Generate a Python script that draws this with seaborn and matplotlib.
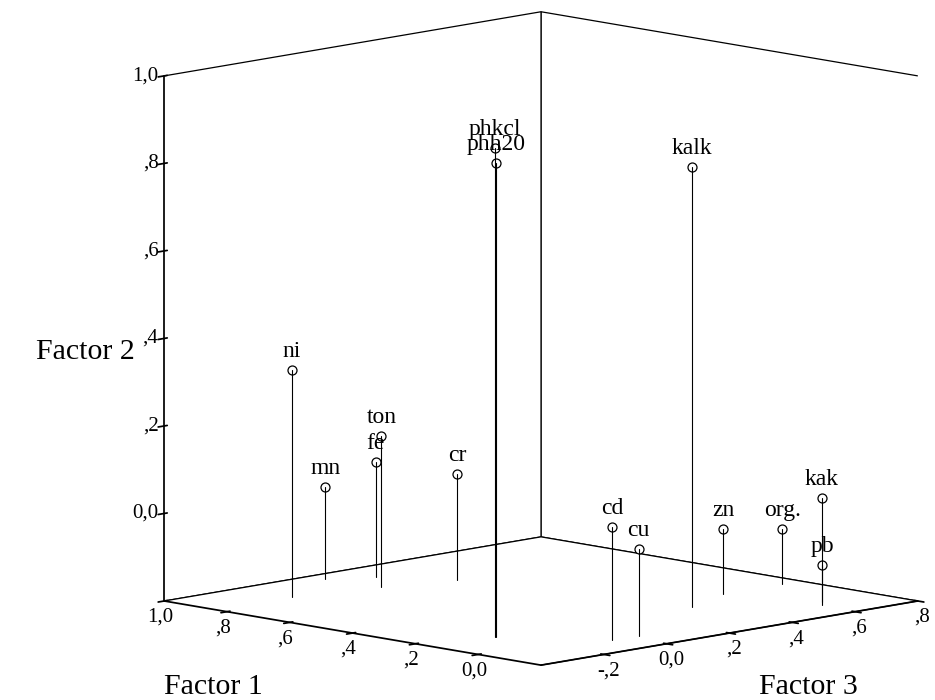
import numpy as np
import seaborn as sns
import matplotlib
matplotlib.use('Agg')
import matplotlib.pyplot as plt

# loadings
labels = ['phkcl', 'phh20', 'kalk', 'ni', 'ton', 'fe', 'mn', 'cr',
          'cd', 'cu', 'zn', 'org.', 'kak', 'pb']
factor1 = [0.138, 0.135, 0.104, 0.837, 0.783, 0.886, 0.947, 0.727,
           -0.076, -0.080, 0.171, 0.178, -0.058, -0.087]
factor2 = [0.918, 0.884, 0.805, 0.319, 0.146, 0.064, 0.011, 0.044,
           0.058, -0.001, -0.051, -0.074, 0.038, -0.108]
factor3 = [-0.208, -0.207, 0.386, -0.157, 0.075, 0.160, 0.060, 0.259,
           -0.049, 0.031, 0.551, 0.746, 0.637, 0.609]

f1_ticks = [0.0, 0.2, 0.4, 0.6, 0.8, 1.0]
f1_ticklabels = ['0,0', ',2', ',4', ',6', ',8', '1,0']
f2_ticks = [0.0, 0.2, 0.4, 0.6, 0.8, 1.0]
f2_ticklabels = ['0,0', ',2', ',4', ',6', ',8', '1,0']
f3_ticks = [-0.2, 0.0, 0.2, 0.4, 0.6, 0.8]
f3_ticklabels = ['-,2', '0,0', ',2', ',4', ',6', ',8']

sns.set_theme(style='white')
plt.rcParams['font.family'] = ['Liberation Serif', 'DejaVu Serif']
for key in ['text.color', 'axes.labelcolor', 'xtick.color', 'ytick.color',
            'axes.edgecolor']:
    plt.rcParams[key] = 'black'

fig = plt.figure(figsize=(9.35, 7), dpi=100)
ax = fig.add_axes([0.194, 0.003, 0.749, 1.0], projection='3d')
ax.set_proj_type('ortho')
ax.set_box_aspect((1, 1, 1), zoom=1.28)
ax.view_init(elev=9.8, azim=-135)

# x = Factor 3, y = Factor 1, z = Factor 2
ax.set_xlim(-0.4, 0.8)
ax.set_ylim(-0.2, 1.0)
ax.set_zlim(-0.2, 1.0)

# drop lines to the floor
for f1, f2, f3 in zip(factor1, factor2, factor3):
    ax.plot([f3, f3], [f1, f1], [f2, -0.2], color='black', lw=0.8)
ax.scatter(factor3, factor1, factor2, s=42, facecolors='white',
           edgecolors='black', linewidths=0.9, depthshade=False, zorder=5)
for lab, f1, f2, f3 in zip(labels, factor1, factor2, factor3):
    ax.text(f3, f1, f2 + 0.018, lab, ha='center', va='bottom', fontsize=17,
            color='black')

ax.set_xticks(f3_ticks)
ax.set_xticklabels(f3_ticklabels, fontsize=15)
ax.set_yticks(f1_ticks)
ax.set_yticklabels(f1_ticklabels, fontsize=15)
ax.set_zticks(f2_ticks)
ax.set_zticklabels(f2_ticklabels, fontsize=15)
ax.tick_params(axis='both', pad=-5, colors='black')
ax.zaxis.set_tick_params(pad=-6)
for tick in ax.zaxis.get_major_ticks():
    tick.label1.set_va('center')
    tick.label1.set_ha('right')

ax.grid(False)
for axis in (ax.xaxis, ax.yaxis, ax.zaxis):
    axis.set_pane_color((1, 1, 1, 1))
    axis.pane.set_edgecolor('black')
    axis.pane.set_linewidth(0.9)
    axis.line.set_color('black')
    axis.label.set_visible(False)
    axis.offsetText.set_visible(False)

fig.text(0.228, 0.019, 'Factor 1', fontsize=21.5, ha='center', va='center')
fig.text(0.865, 0.019, 'Factor 3', fontsize=21.5, ha='center', va='center')
fig.text(0.091, 0.497, 'Factor 2', fontsize=21.5, ha='center', va='center')

fig.savefig('out.png', dpi=100)
